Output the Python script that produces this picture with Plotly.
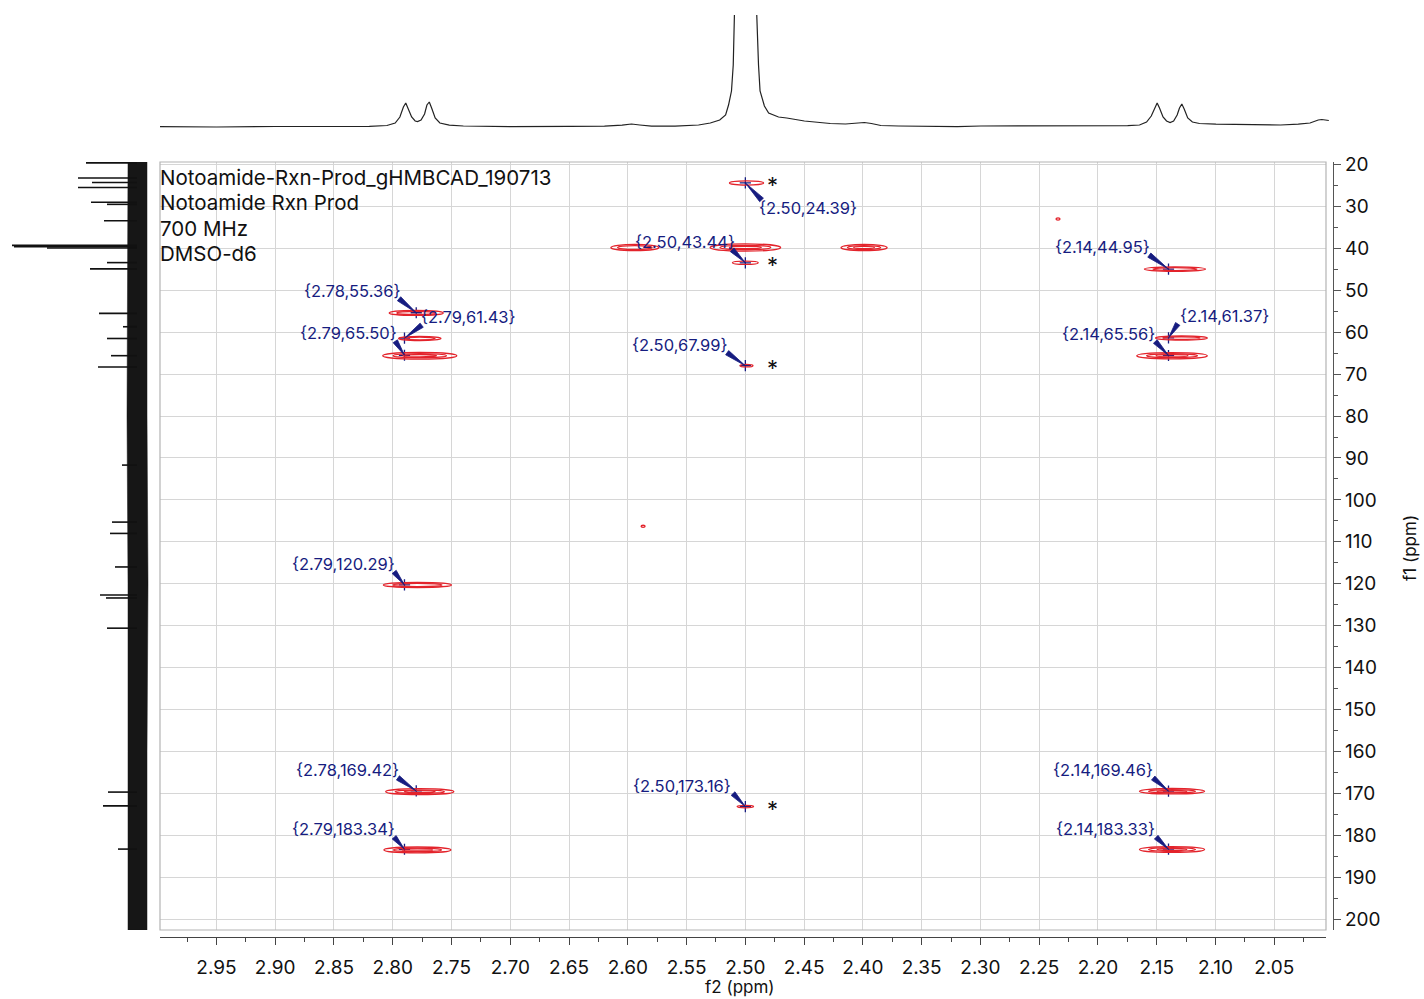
import math
import plotly.graph_objects as go

# ---------------- data ----------------
# 1H projection (f2, ppm) and its intensity above baseline
h1_ppm = [3.000, 2.950, 2.900, 2.850, 2.820, 2.805, 2.798, 2.794, 2.791, 2.789, 2.787, 2.784,
          2.781, 2.779, 2.776, 2.773, 2.771, 2.769, 2.767, 2.764, 2.760, 2.752, 2.740, 2.700,
          2.650, 2.620, 2.605, 2.597, 2.590, 2.580, 2.560, 2.540, 2.530, 2.522, 2.517, 2.5145,
          2.512, 2.5105, 2.5095, 2.509, 2.500, 2.491, 2.4905, 2.489, 2.4877, 2.484, 2.4804,
          2.472, 2.465, 2.450, 2.440, 2.428, 2.415, 2.405, 2.399, 2.393, 2.385, 2.370, 2.350,
          2.320, 2.300, 2.250, 2.200, 2.175, 2.165, 2.159, 2.155, 2.152, 2.150, 2.148, 2.145,
          2.142, 2.139, 2.136, 2.133, 2.131, 2.129, 2.127, 2.124, 2.120, 2.114, 2.100, 2.080,
          2.060, 2.045, 2.030, 2.020, 2.013, 2.010, 2.007, 2.004]
h1_int = [0.3, 0.0, 0.5, 0.2, 0.6, 1.5, 4, 10, 20, 24, 19, 10,
          6, 5.5, 7, 13, 22, 25, 19, 9, 4, 1.8, 1, 0.4,
          0.6, 0.8, 1.8, 3, 2, 0.8, 0.8, 2, 4, 7, 12, 22,
          36, 62, 112, 150, 400, 150, 112, 62, 36, 21, 14,
          10, 9, 6, 5, 3.5, 3, 3.5, 4.5, 3.5, 1.5, 1, 0.5,
          0.4, 1.0, 1.0, 0.8, 1.3, 2, 5, 11, 19, 24, 19, 10,
          6, 4.5, 6, 12, 19, 23, 18, 9, 5, 3.5, 2.8, 2.6,
          2.2, 2, 2.8, 4, 7, 7.5, 7, 6.5]

# 13C projection (f1, ppm): noise band edges and resolved lines
c13_band_ppm = [19.4, 40.0, 80.0, 120.0, 160.0, 202.6]
c13_band_lo = [-10, -10, -10, -11, -10, -10]
c13_band_hi = [9, 9, 10, 9, 9, 9]
c13_line_ppm = [19.6, 23.2, 24.3, 25.5, 29.0, 29.5, 33.4, 39.3, 39.6, 39.9, 43.4, 44.9,
                55.5, 58.7, 61.5, 65.6, 68.3, 91.7, 105.3, 108.0, 116.0, 122.7, 123.4,
                130.6, 169.7, 173.0, 183.3]
c13_line_int = [51, 59, 45, 59, 46, 30, 33, 125, 123, 90, 30, 47,
                38, 14, 30, 26, 39, 15, 25, 27, 22, 37, 31,
                30, 29, 34, 19]

# 2D cross peaks: centre (f2, f1), half-extent (ppm) and number of contour levels
xpk_f2 = [2.499, 2.594, 2.500, 2.399, 2.500, 2.499, 2.500, 2.780, 2.777, 2.777, 2.779,
          2.777, 2.779, 2.1345, 2.129, 2.137, 2.137, 2.137, 2.234, 2.587]
xpk_f1 = [24.4, 39.8, 39.8, 39.8, 43.44, 67.99, 173.16, 55.4, 61.5, 65.6, 120.3,
          169.6, 183.5, 44.95, 61.4, 65.6, 169.5, 183.4, 33.0, 106.3]
xpk_w = [0.0145, 0.0204, 0.030, 0.0196, 0.011, 0.0055, 0.007, 0.023, 0.018, 0.0315, 0.029,
         0.029, 0.0285, 0.026, 0.022, 0.030, 0.0277, 0.0277, 0.0017, 0.0017]
xpk_h = [0.5, 0.75, 0.85, 0.75, 0.4, 0.3, 0.3, 0.6, 0.5, 0.8, 0.6,
         0.7, 0.7, 0.55, 0.5, 0.75, 0.65, 0.7, 0.25, 0.25]
xpk_levels = [1, 2, 3, 3, 1, 1, 1, 2, 2, 3, 2, 3, 3, 2, 2, 3, 3, 3, 1, 1]

# picked correlations (f2, f1); starred ones flagged
pick_f2 = [2.50, 2.50, 2.14, 2.78, 2.79, 2.79, 2.14, 2.14, 2.50, 2.79, 2.78, 2.50, 2.79, 2.14, 2.14]
pick_f1 = [24.39, 43.44, 44.95, 55.36, 61.43, 65.50, 61.37, 65.56, 67.99, 120.29, 169.42,
           173.16, 183.34, 169.46, 183.33]
pick_star = [True, True, False, False, False, False, False, False, True, False, False,
             True, False, False, False]

x_ticks = [2.95, 2.90, 2.85, 2.80, 2.75, 2.70, 2.65, 2.60, 2.55, 2.50, 2.45, 2.40, 2.35,
           2.30, 2.25, 2.20, 2.15, 2.10, 2.05]
x_tick_text = ["%.2f" % v for v in x_ticks]
y_ticks = list(range(20, 201, 10))
y_tick_text = [str(v) for v in y_ticks]

header_lines = ["Notoamide-Rxn-Prod_gHMBCAD_190713", "Notoamide Rxn Prod", "700 MHz", "DMSO-d6"]

# ---------------- layout helpers ----------------
W, H = 1424, 999
FONT = "Inter, 'Liberation Sans', Arial, sans-serif"
RED = "#e3232b"
NAVY = "#161c80"


def fx(px):
    return px / W


def fy(px):
    return 1 - px / H


X_RANGE = [2.998, 2.006]
Y_RANGE = [202.6, 19.4]
main_x_dom = [fx(160), fx(1326)]
main_y_dom = [fy(930), fy(162)]

fig = go.Figure()

# 1H projection on top
fig.add_trace(go.Scatter(x=h1_ppm, y=h1_int, mode="lines", xaxis="x2", yaxis="y2",
                         line=dict(color="#222222", width=1.2), hoverinfo="skip",
                         showlegend=False))

# 13C projection on the left: noise band + lines
band_x = c13_band_lo + c13_band_hi[::-1]
band_y = c13_band_ppm + c13_band_ppm[::-1]
fig.add_trace(go.Scatter(x=band_x, y=band_y, fill="toself", mode="lines", xaxis="x3", yaxis="y3",
                         fillcolor="#161616", line=dict(color="#161616", width=0.5),
                         hoverinfo="skip", showlegend=False))
lx, ly = [], []
for p, v in zip(c13_line_ppm, c13_line_int):
    lx += [0, v, None]
    ly += [p, p, None]
fig.add_trace(go.Scatter(x=lx, y=ly, mode="lines", xaxis="x3", yaxis="y3",
                         line=dict(color="#111111", width=1.6), hoverinfo="skip",
                         showlegend=False))

# peak-pick crosshairs
fig.add_trace(go.Scatter(x=pick_f2, y=pick_f1, mode="markers", xaxis="x", yaxis="y",
                         marker=dict(symbol="cross-thin", size=8,
                                     line=dict(color=NAVY, width=1.3)),
                         hoverinfo="skip", showlegend=False))

shapes = []
# contour rings of each cross peak
lvl_w = [1.0, 0.72, 0.45]
lvl_h = [1.0, 0.62, 0.35]
for f2, f1, w, h, n in zip(xpk_f2, xpk_f1, xpk_w, xpk_h, xpk_levels):
    for k in range(n):
        shapes.append(dict(type="circle", xref="x", yref="y",
                           x0=f2 - w * lvl_w[k], x1=f2 + w * lvl_w[k],
                           y0=f1 - h * lvl_h[k], y1=f1 + h * lvl_h[k],
                           line=dict(color=RED, width=1.3)))
# plot frame
shapes.append(dict(type="rect", xref="paper", yref="paper",
                   x0=main_x_dom[0], x1=main_x_dom[1], y0=main_y_dom[0], y1=main_y_dom[1],
                   line=dict(color="#b4b4b4", width=1.2), layer="above"))

annotations = []
# label placement of each pick (pixel offset of the label centre from its point, y down)
label_offsets = [(63, 25), (-60, -21), (-66, -22), (-64, -22), (64, -21), (-56, -22),
                 (56, -22), (-60, -22), (-65, -21), (-61, -21), (-69, -21), (-63, -21),
                 (-61, -20), (-66, -21), (-63, -20)]
LABEL_HALF_H = 8
WEDGE_HALF = 2.6
for f2, f1, star, (ox, oy) in zip(pick_f2, pick_f1, pick_star, label_offsets):
    txt = "{%.2f,%.2f}" % (f2, f1)
    half_w = 3.9 * len(txt)
    sx = 1 if ox > 0 else -1
    sy = 1 if oy > 0 else -1
    annotations.append(dict(x=f2, y=f1, xref="x", yref="y", text=txt, showarrow=False,
                            xshift=ox, yshift=-oy, borderpad=0,
                            font=dict(family=FONT, size=16.5, color=NAVY)))
    # tapered pointer from the label corner to the point (pixel offsets, y up)
    tx = ox - sx * half_w
    ty = -(oy - sy * LABEL_HALF_H)
    ln = math.hypot(tx, ty)
    nx, ny = -ty / ln * WEDGE_HALF, tx / ln * WEDGE_HALF
    path = "M 0,0 L %.2f,%.2f L %.2f,%.2f Z" % (tx + nx, ty + ny, tx - nx, ty - ny)
    shapes.append(dict(type="path", xref="x", yref="y", xsizemode="pixel", ysizemode="pixel",
                       xanchor=f2, yanchor=f1, path=path, fillcolor=NAVY,
                       line=dict(color=NAVY, width=0.8)))
    if star:
        annotations.append(dict(x=f2, y=f1, xref="x", yref="y", text="*", showarrow=False,
                                xshift=27, yshift=-2, borderpad=0,
                                font=dict(family=FONT, size=22, color="#111111")))

# header block
for i, line in enumerate(header_lines):
    annotations.append(dict(x=fx(158), y=fy(177 + 25.6 * i), xref="paper", yref="paper",
                            text=line, showarrow=False, xanchor="left", yanchor="middle",
                            font=dict(family=FONT, size=20.5, color="#111111")))

# axis titles
annotations.append(dict(x=fx(740), y=fy(987), xref="paper", yref="paper", text="f2 (ppm)",
                        showarrow=False, xanchor="center", yanchor="middle",
                        font=dict(family=FONT, size=17, color="#111111")))
annotations.append(dict(x=fx(1410), y=fy(548), xref="paper", yref="paper", text="f1 (ppm)",
                        showarrow=False, textangle=-90, xanchor="center", yanchor="middle",
                        font=dict(family=FONT, size=17, color="#111111")))

hidden = dict(visible=False, showgrid=False, zeroline=False, automargin=False)

fig.update_layout(
    width=W, height=H,
    margin=dict(l=0, r=0, t=0, b=0, pad=0, autoexpand=False),
    paper_bgcolor="white", plot_bgcolor="white",
    showlegend=False,
    shapes=shapes, annotations=annotations,
    xaxis=dict(domain=main_x_dom, range=X_RANGE, anchor="free", position=fy(937),
               automargin=False,
               tickmode="array", tickvals=x_ticks, ticktext=x_tick_text,
               ticks="outside", ticklen=7, tickwidth=1.2, tickcolor="#444444",
               showline=True, linecolor="#444444", linewidth=1.4,
               showgrid=True, gridcolor="#d6d6d6", gridwidth=1, zeroline=False,
               ticklabelstandoff=6,
               minor=dict(tickmode="linear", tick0=2.0, dtick=0.025, ticks="outside",
                          ticklen=4, tickcolor="#444444", showgrid=False),
               tickfont=dict(family=FONT, size=19, color="#111111")),
    yaxis=dict(domain=main_y_dom, range=Y_RANGE, anchor="free", position=fx(1333), side="right",
               automargin=False,
               tickmode="array", tickvals=y_ticks, ticktext=y_tick_text,
               ticks="outside", ticklen=7, tickwidth=1.2, tickcolor="#555555",
               showline=True, linecolor="#555555", linewidth=1.4,
               showgrid=True, gridcolor="#d6d6d6", gridwidth=1, zeroline=False,
               minor=dict(tickmode="linear", tick0=0, dtick=5, ticks="outside",
                          ticklen=4, tickcolor="#555555", showgrid=False),
               tickfont=dict(family=FONT, size=19, color="#111111")),
    xaxis2=dict(domain=[fx(160), fx(1330)], range=[2.998, 2.003], anchor="y2", **hidden),
    yaxis2=dict(domain=[fy(140), fy(15)], range=[-13, 112], anchor="x2", **hidden),
    xaxis3=dict(domain=[0, fx(150)], range=[137, -13], anchor="y3", **hidden),
    yaxis3=dict(domain=main_y_dom, range=Y_RANGE, anchor="x3", **hidden),
)

fig.write_html("out.html")
